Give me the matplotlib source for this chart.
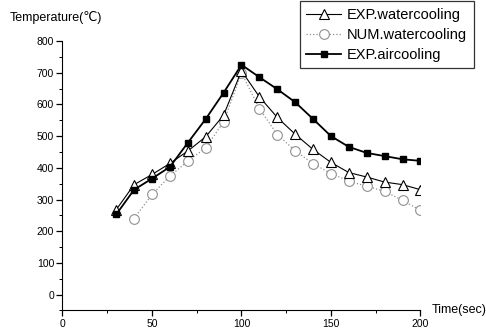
import matplotlib.pyplot as plt
from matplotlib.ticker import MultipleLocator

plt.rcParams['font.family'] = ['Liberation Sans', 'DejaVu Sans']

# data
time = [30, 40, 50, 60, 70, 80, 90, 100, 110, 120, 130, 140, 150, 160, 170, 180, 190, 200]
exp_water = [268, 347, 379, 414, 453, 498, 566, 706, 624, 559, 506, 458, 417, 385, 371, 355, 347, 331]
time_num = time[1:]
num_water = [240, 316, 374, 421, 463, 545, 700, 587, 505, 454, 413, 382, 358, 342, 326, 297, 266]
exp_air = [253, 331, 366, 403, 479, 554, 637, 725, 686, 648, 607, 554, 500, 466, 447, 437, 427, 422]

fig = plt.figure(figsize=(4.86, 3.31), dpi=100)
ax = fig.add_axes([0.1286, 0.062, 0.7366, 0.814])

ax.plot(time, exp_water, color='black', lw=0.8, marker='^', ms=7,
        mfc='white', mec='black', mew=0.8, label='EXP.watercooling', zorder=3)
ax.plot(time_num, num_water, color='#909090', lw=0.9, ls=':', marker='o', ms=7,
        mfc='white', mec='#909090', mew=0.8, label='NUM.watercooling', zorder=2)
ax.plot(time, exp_air, color='black', lw=1.3, marker='s', ms=5,
        mfc='black', mec='black', label='EXP.aircooling', zorder=4)

ax.set_xlim(0, 200)
ax.set_ylim(-50, 800)
ax.set_yticks(range(0, 801, 100))
ax.set_xticks(range(0, 201, 50))
ax.xaxis.set_minor_locator(MultipleLocator(25))
ax.yaxis.set_minor_locator(MultipleLocator(50))
ax.spines['top'].set_visible(False)
ax.spines['right'].set_visible(False)
ax.spines['left'].set_bounds(-50, 800)
ax.tick_params(which='major', direction='out', length=4, width=0.9, labelsize=7.5, pad=2)
ax.tick_params(which='minor', direction='out', length=2, width=0.7)

fig.text(0.02, 0.948, 'Temperature(℃)', fontsize=9, va='center', ha='left')
fig.text(0.888, 0.063, 'Time(sec)', fontsize=9, va='center', ha='left')

leg = fig.legend(loc='upper right', bbox_to_anchor=(0.978, 1.0), fontsize=10.5,
                 frameon=True, fancybox=False, edgecolor='black', handlelength=2.4,
                 borderpad=0.45, labelspacing=0.4, handletextpad=0.4, borderaxespad=0.1)
leg.get_frame().set_linewidth(0.9)

plt.savefig('out.png', dpi=100)
